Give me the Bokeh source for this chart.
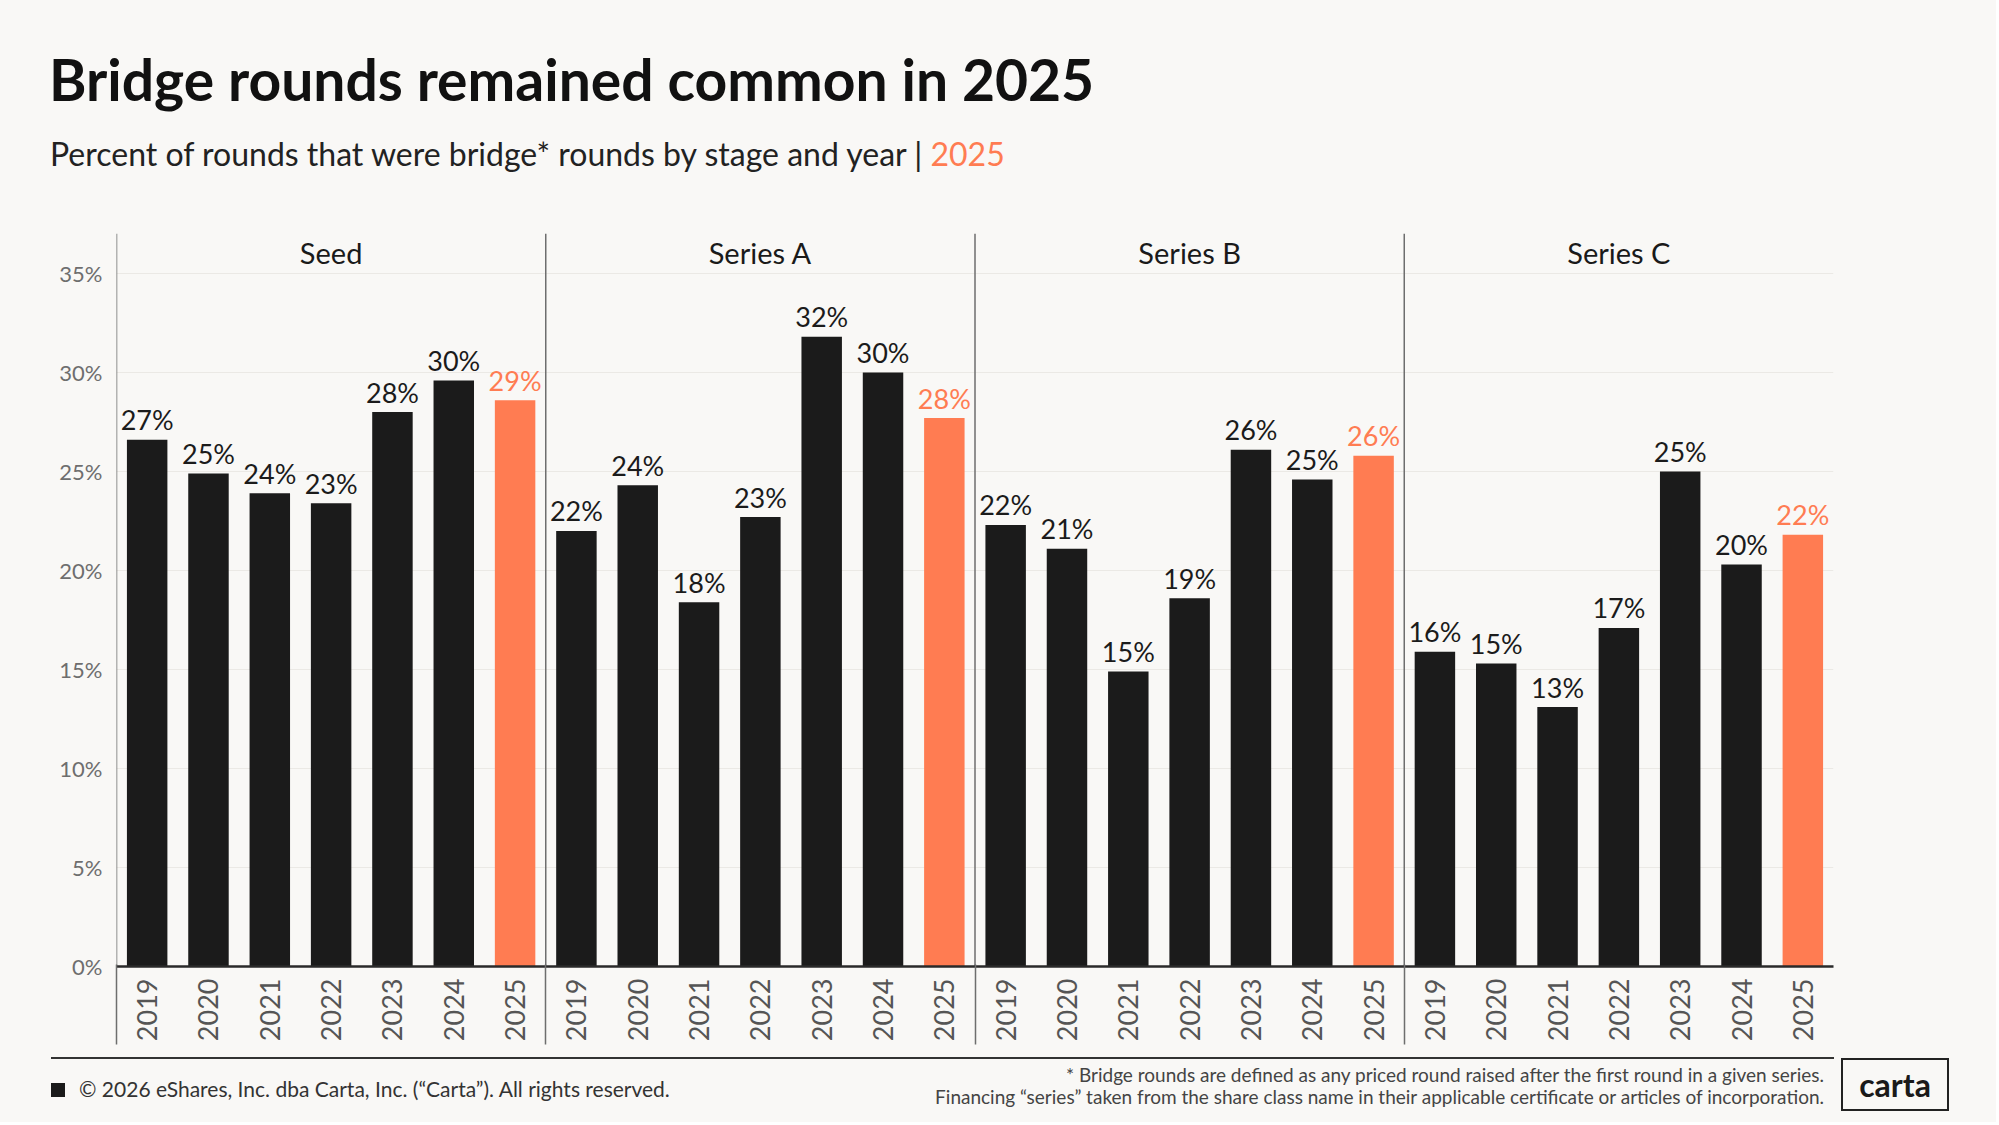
from bokeh.plotting import figure
from bokeh.layouts import column
from bokeh.models import (ColumnDataSource, FactorRange, Range1d, FixedTicker,
                          PrintfTickFormatter, Div, LinearAxis)
from bokeh.core.properties import value
from bokeh.embed import file_html
from bokeh.resources import INLINE
import math

# ---------------- data ----------------
stages = ["Seed", "Series A", "Series B", "Series C"]
years = ["2019", "2020", "2021", "2022", "2023", "2024", "2025"]
seed = [26.6, 24.9, 23.9, 23.4, 28.0, 29.6, 28.6]
series_a = [22.0, 24.3, 18.4, 22.7, 31.8, 30.0, 27.7]
series_b = [22.3, 21.1, 14.9, 18.6, 26.1, 24.6, 25.8]
series_c = [15.9, 15.3, 13.1, 17.1, 25.0, 20.3, 21.8]
highlight_year = "2025"
y_ticks = [0, 5, 10, 15, 20, 25, 30, 35]

title_text = "Bridge rounds remained common in 2025"
subtitle_text = "Percent of rounds that were bridge* rounds by stage and year |"
subtitle_highlight = "2025"
copyright_text = "\u00a9 2026 eShares, Inc. dba Carta, Inc. (\u201cCarta\u201d). All rights reserved."
footnote_1 = "* Bridge rounds are defined as any priced round raised after the first round in a given series."
footnote_2 = "Financing \u201cseries\u201d taken from the share class name in their applicable certificate or articles of incorporation."
logo_text = "carta"

# ---------------- style ----------------
FONT = "Lato"
BG = "#f9f8f6"
BLACK = "#1b1b1b"
ORANGE = "#ff7c52"
GRAY = "#6e6e6e"

W = 1996
TOP_H = 180               # height of heading block
FIG_BOTTOM = 1056         # page y where the figure ends
TOTAL_H = 1122
FL, FT, FB, FR = 116, 233, 966, 1833   # frame edges in page px

values = seed + series_a + series_b + series_c
xs = [(s, y) for s in stages for y in years]
colors = [ORANGE if y == highlight_year else BLACK for s in stages for y in years]
labels = [f"{round(v)}%" for v in values]

y_max = 37.02
px_per_unit = (FB - FT) / y_max
label_gap = 20 / px_per_unit
src = ColumnDataSource(dict(x=xs, top=values, color=colors, label=labels,
                            label_y=[v + label_gap for v in values]))

n = len(years)
seps = [i * n for i in range(len(stages))]

p = figure(
    x_range=FactorRange(*xs, factor_padding=0, group_padding=0, subgroup_padding=0, range_padding=0),
    y_range=Range1d(0, y_max),
    width=W, height=FIG_BOTTOM - TOP_H, output_backend="svg", toolbar_location=None,
    min_border_left=FL, min_border_right=W - FR,
    min_border_top=FT - TOP_H, min_border_bottom=FIG_BOTTOM - FB,
    margin=0,
)
p.background_fill_color = BG
p.border_fill_color = BG
p.outline_line_color = None

# grid
p.xgrid.grid_line_color = None
p.ygrid.grid_line_color = "#ebe9e5"
p.ygrid.grid_line_width = 1

# y axis
p.yaxis.ticker = FixedTicker(ticks=y_ticks)
p.yaxis.formatter = PrintfTickFormatter(format="%d%%")
p.yaxis.axis_line_color = None
p.yaxis.major_tick_line_color = None
p.yaxis.minor_tick_line_color = None
p.yaxis.major_label_text_font = FONT
p.yaxis.major_label_text_font_size = "22px"
p.yaxis.major_label_text_color = GRAY
p.yaxis.major_label_standoff = 8

# x axis (years)
p.xaxis.major_label_orientation = math.pi / 2
p.xaxis.major_label_text_font = FONT
p.xaxis.major_label_text_font_size = "27px"
p.xaxis.major_label_text_color = "#555555"
p.xaxis.major_label_standoff = 6
p.xaxis.major_tick_line_color = None
p.xaxis.minor_tick_line_color = None
p.xaxis.axis_line_color = "#2a2a2a"
p.xaxis.axis_line_width = 2.5
p.xaxis.group_text_color = None
p.xaxis.group_text_font_size = "1px"
p.xaxis.separator_line_color = None

# panel separators below the baseline: ticks of an outer helper axis
sep_axis = LinearAxis(ticker=FixedTicker(ticks=seps),
                      axis_line_color=None, major_tick_line_color=GRAY,
                      major_tick_line_width=1.5, major_tick_in=80, major_tick_out=0,
                      minor_tick_line_color=None, major_label_text_color=None,
                      major_label_text_font_size="1px", major_label_standoff=0)
p.add_layout(sep_axis, "below")

# panel separators inside frame
p.segment(x0=seps, y0=[0] * len(seps), x1=seps, y1=[y_max] * len(seps),
          line_color=GRAY, line_width=1.5)

# bars
p.vbar(x="x", top="top", width=0.66, fill_color="color", line_color=None, source=src)

# value labels
p.text(x="x", y="label_y", text="label", text_color="color", text_align="center",
       text_baseline="alphabetic", text_font=value(FONT),
       text_font_size="27px", source=src)

# stage headers
p.text(x=stages, y=[36.05] * len(stages), text=stages, text_align="center",
       text_baseline="middle", text_font=value(FONT), text_font_size="29px",
       text_color="#1a1a1a")

# ---------------- heading & footer (HTML) ----------------
def abs_text(txt, left=None, right=None, top=0, size=20, color="#222", weight="normal"):
    pos = f"left:{left}px;" if left is not None else f"right:{right}px;text-align:right;"
    return (f'<div style="position:absolute;{pos}top:{top}px;font-family:{FONT};'
            f'font-size:{size}px;line-height:1;color:{color};font-weight:{weight};'
            f'white-space:nowrap;">{txt}</div>')

def top_for_baseline(baseline, size):
    return round(baseline - 0.887 * size, 1)

head_html = (
    f'<div style="position:relative;width:{W}px;height:{TOP_H}px;background:{BG};">'
    + abs_text(title_text, left=49, top=top_for_baseline(102, 57), size=57, color="#111", weight="bold")
    + abs_text(subtitle_text + f' <span style="color:{ORANGE}">{subtitle_highlight}</span>',
               left=50, top=top_for_baseline(166, 32), size=32, color="#222")
    + '</div>'
)
head = Div(text=head_html, width=W, height=TOP_H, margin=0,
           styles={"background-color": BG})

FOOT_H = TOTAL_H - FIG_BOTTOM
fy = lambda y: y - FIG_BOTTOM
foot_html = (
    f'<div style="position:relative;width:{W}px;height:{FOOT_H}px;background:{BG};">'
    f'<div style="position:absolute;left:51px;top:{fy(1057)}px;width:{1834-51}px;height:2px;background:#333;"></div>'
    f'<div style="position:absolute;left:51px;top:{fy(1083)}px;width:14px;height:14px;background:#1a1a1a;"></div>'
    + abs_text(copyright_text, left=79, top=top_for_baseline(1097, 21) - FIG_BOTTOM, size=21, color="#333")
    + abs_text(footnote_1, right=W - 1824, top=top_for_baseline(1082, 19) - FIG_BOTTOM, size=19, color="#444")
    + abs_text(footnote_2, right=W - 1824, top=top_for_baseline(1104, 19) - FIG_BOTTOM, size=19, color="#444")
    + f'<div style="position:absolute;left:1841px;top:{fy(1058)}px;width:108px;height:53px;'
      f'box-sizing:border-box;border:2.5px solid #222;display:flex;align-items:center;'
      f'justify-content:center;font-family:{FONT};font-weight:bold;font-size:32px;color:#1a1a1a;">'
      f'{logo_text}</div>'
    + '</div>'
)
foot = Div(text=foot_html, width=W, height=FOOT_H, margin=0,
           styles={"background-color": BG})

layout = column(head, p, foot, spacing=0, margin=0, styles={"background-color": BG})

open("out.html", "w").write(file_html(layout, INLINE))
